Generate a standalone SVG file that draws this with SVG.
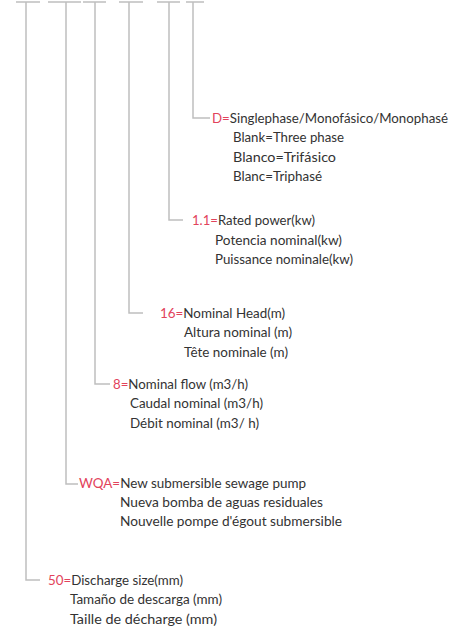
<svg xmlns="http://www.w3.org/2000/svg" width="450" height="627" viewBox="0 0 450 627">
<style>
.ln{stroke:#bfbfbf;stroke-width:1.5;fill:none}
.t{font-family:Lato,"Liberation Sans",sans-serif;font-size:12.5px;fill:#333}
.r{fill:#e2435b}
</style>
<rect width="450" height="627" fill="#fff"/>
<g id="connectors">
<path class="ln" d="M16 2H40M48 2H81M83 2H106M119 2H143M157 2H180M186 2H204"/>
<path class="ln" d="M193 2V118H210"/>
<path class="ln" d="M169 2V220H183"/>
<path class="ln" d="M129 2V313H143"/>
<path class="ln" d="M95 2V384H110"/>
<path class="ln" d="M66 2V484H78"/>
<path class="ln" d="M26 2V580H40"/>
</g>
<g id="node-phase">
<text class="t" x="212" y="122.5" textLength="236" lengthAdjust="spacingAndGlyphs"><tspan class="r">D=</tspan>Singlephase/Monofásico/Monophasé</text>
<text class="t" x="233" y="142" textLength="111" lengthAdjust="spacingAndGlyphs">Blank=Three phase</text>
<text class="t" x="233" y="161.5" textLength="103" lengthAdjust="spacingAndGlyphs">Blanco=Trifásico</text>
<text class="t" x="233" y="181" textLength="89" lengthAdjust="spacingAndGlyphs">Blanc=Triphasé</text>
</g>
<g id="node-power">
<text class="t" x="192" y="225" textLength="123" lengthAdjust="spacingAndGlyphs"><tspan class="r">1.1=</tspan>Rated power(kw)</text>
<text class="t" x="215" y="244.5" textLength="127" lengthAdjust="spacingAndGlyphs">Potencia nominal(kw)</text>
<text class="t" x="215" y="264" textLength="138" lengthAdjust="spacingAndGlyphs">Puissance nominale(kw)</text>
</g>
<g id="node-head">
<text class="t" x="160" y="317.5" textLength="125" lengthAdjust="spacingAndGlyphs"><tspan class="r">16=</tspan>Nominal Head(m)</text>
<text class="t" x="184" y="337" textLength="108" lengthAdjust="spacingAndGlyphs">Altura nominal (m)</text>
<text class="t" x="184" y="356.5" textLength="104" lengthAdjust="spacingAndGlyphs">Tête nominale (m)</text>
</g>
<g id="node-flow">
<text class="t" x="113" y="388.5" textLength="135" lengthAdjust="spacingAndGlyphs"><tspan class="r">8=</tspan>Nominal flow (m3/h)</text>
<text class="t" x="130" y="408" textLength="133" lengthAdjust="spacingAndGlyphs">Caudal nominal (m3/h)</text>
<text class="t" x="130" y="427.5" textLength="129" lengthAdjust="spacingAndGlyphs">Débit nominal (m3/ h)</text>
</g>
<g id="node-type">
<text class="t" x="79" y="488" textLength="227" lengthAdjust="spacingAndGlyphs"><tspan class="r">WQA=</tspan>New submersible sewage pump</text>
<text class="t" x="120" y="507" textLength="203" lengthAdjust="spacingAndGlyphs">Nueva bomba de aguas residuales</text>
<text class="t" x="120" y="526" textLength="222" lengthAdjust="spacingAndGlyphs">Nouvelle pompe d'égout submersible</text>
</g>
<g id="node-discharge">
<text class="t" x="48" y="584.5" textLength="135" lengthAdjust="spacingAndGlyphs"><tspan class="r">50=</tspan>Discharge size(mm)</text>
<text class="t" x="70" y="604" textLength="152" lengthAdjust="spacingAndGlyphs">Tamaño de descarga (mm)</text>
<text class="t" x="70" y="623.5" textLength="147" lengthAdjust="spacingAndGlyphs">Taille de décharge (mm)</text>
</g>
</svg>
